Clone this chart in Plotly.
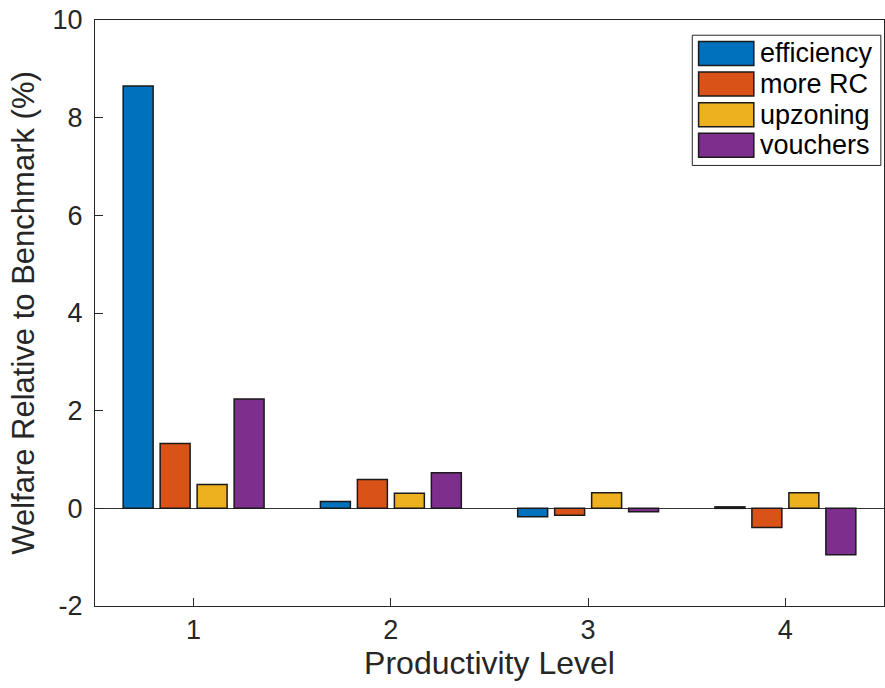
import plotly.graph_objects as go

categories = [1, 2, 3, 4]
efficiency = [8.65, 0.14, -0.17, 0.03]
more_rc = [1.33, 0.59, -0.14, -0.39]
upzoning = [0.49, 0.31, 0.32, 0.32]
vouchers = [2.24, 0.73, -0.07, -0.95]
y_ticks = [-2, 0, 2, 4, 6, 8, 10]

series = [
    ("efficiency", efficiency, "#0072BD"),
    ("more RC", more_rc, "#D95319"),
    ("upzoning", upzoning, "#EDB120"),
    ("vouchers", vouchers, "#7E2F8E"),
]

fig = go.Figure()
for name, vals, col in series:
    fig.add_trace(go.Bar(
        x=categories, y=vals, name=name,
        marker=dict(color=col, line=dict(color="#1a1a1a", width=1.5)),
    ))

# legend drawn as a MATLAB-style box (paper coordinates of the axes)
LEG_X0, LEG_X1 = 0.757, 0.996
LEG_Y1 = 0.974
ROW_H = 0.0523
SW_X0, SW_X1 = 0.765, 0.835
SW_H = 0.041
TXT_X = 0.840
shapes = [dict(type="rect", xref="paper", yref="paper",
               x0=LEG_X0, x1=LEG_X1, y0=LEG_Y1 - 4 * ROW_H - 0.013, y1=LEG_Y1,
               fillcolor="white", line=dict(color="#262626", width=1), layer="above")]
annotations = []
for i, (name, _, col) in enumerate(series):
    yc = LEG_Y1 - 0.031 - i * ROW_H
    shapes.append(dict(type="rect", xref="paper", yref="paper",
                       x0=SW_X0, x1=SW_X1, y0=yc - SW_H / 2, y1=yc + SW_H / 2,
                       fillcolor=col, line=dict(color="#1a1a1a", width=1.5), layer="above"))
    annotations.append(dict(text=name, xref="paper", yref="paper", x=TXT_X, y=yc,
                            xanchor="left", yanchor="middle", showarrow=False,
                            font=dict(size=27, color="#000000")))

font_family = "Liberation Sans, Arial, Helvetica, sans-serif"
fig.update_layout(
    width=885, height=688,
    margin=dict(l=95, r=1, t=20, b=82, autoexpand=False),
    paper_bgcolor="white", plot_bgcolor="white",
    barmode="group", bargap=0.25, bargroupgap=0.19,
    font=dict(family=font_family, size=27, color="#262626"),
    showlegend=False,
    shapes=shapes, annotations=annotations,
    xaxis=dict(
        range=[0.5, 4.5], tickvals=categories, ticktext=[str(c) for c in categories],
        ticks="inside", ticklen=8, tickcolor="#262626",
        showline=True, linecolor="#262626", linewidth=1, mirror=True,
        showgrid=False, zeroline=False, automargin=False,
        title=dict(text="Productivity Level", font=dict(size=32), standoff=4),
    ),
    yaxis=dict(
        range=[-2, 10], tickvals=y_ticks, ticktext=[str(v) for v in y_ticks],
        ticks="inside", ticklen=8, tickcolor="#262626",
        ticklabeloverflow="allow", ticklabelstandoff=6,
        showline=True, linecolor="#262626", linewidth=1, mirror=True,
        showgrid=False, zeroline=True, zerolinecolor="#333333", zerolinewidth=1,
        title=dict(text="Welfare Relative to Benchmark (%)", font=dict(size=31), standoff=8),
        automargin=False,
    ),
)

fig.write_html("out.html", config={"displayModeBar": False},
               post_script="document.body.style.margin='0';")
